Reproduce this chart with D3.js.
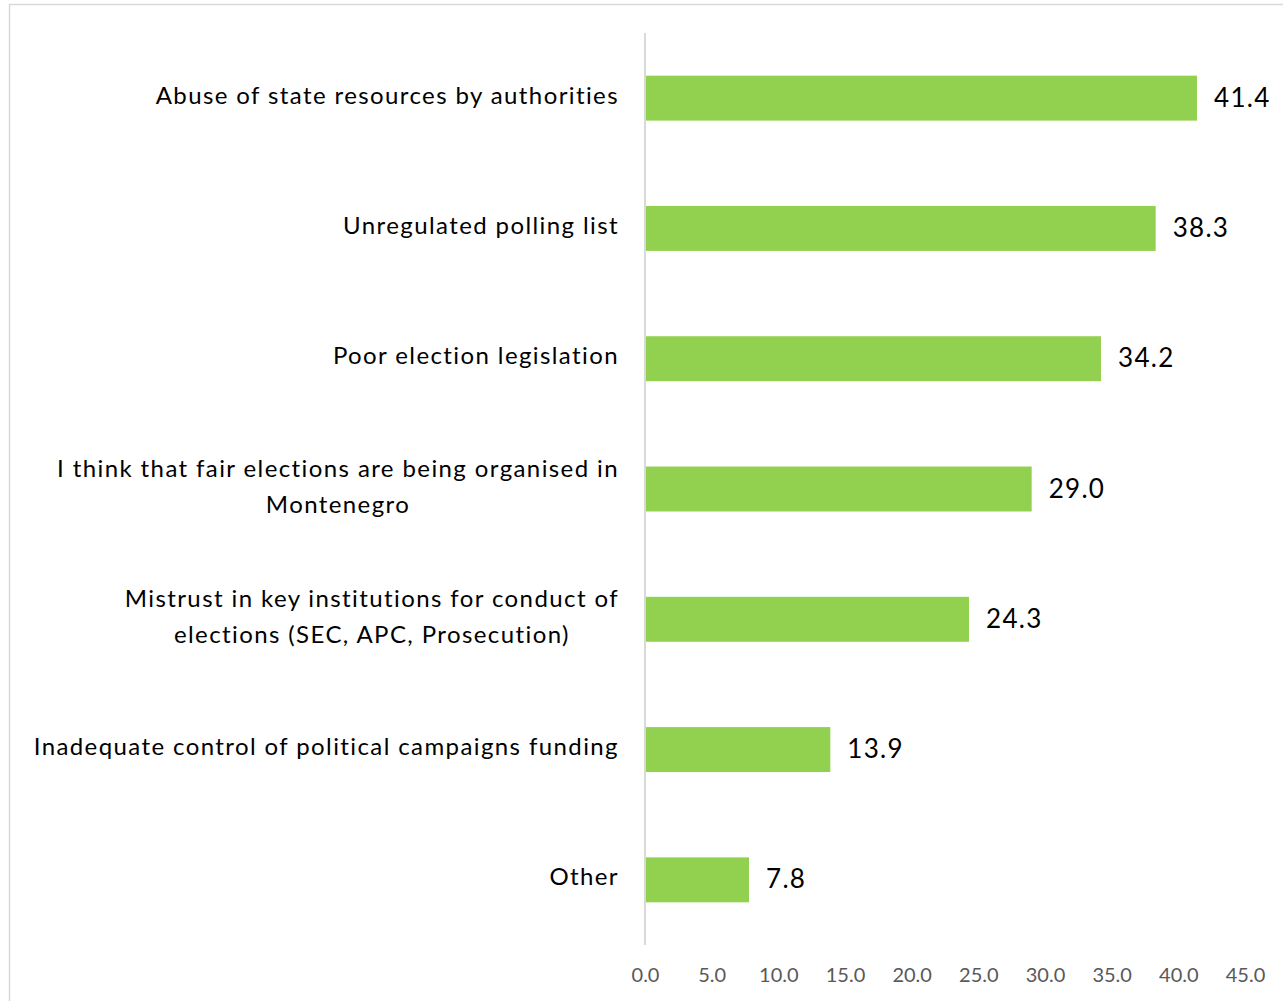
<!DOCTYPE html>
<html>
<head>
<meta charset="utf-8">
<script src="https://cdn.jsdelivr.net/npm/d3@7"></script>
<style>
  html, body { margin: 0; padding: 0; background: #fff; }
  svg { display: block; }
</style>
</head>
<body>
<svg id="chart" width="1283" height="1001"></svg>
<script>
// Categories (top to bottom), each split into its display lines
const categories = [
  ["Abuse of state resources by authorities"],
  ["Unregulated polling list"],
  ["Poor election legislation"],
  ["I think that fair elections are being organised in", "Montenegro"],
  ["Mistrust in key institutions for conduct of", "elections (SEC, APC, Prosecution)"],
  ["Inadequate control of political campaigns funding"],
  ["Other"]
];
const values = [41.4, 38.3, 34.2, 29.0, 24.3, 13.9, 7.8];
const tickValues = [0, 5, 10, 15, 20, 25, 30, 35, 40, 45];

const svg = d3.select("#chart");
const font = "Lato, 'Open Sans', sans-serif";

// Outer frame
svg.append("rect")
  .attr("x", 9.5).attr("y", 4.5)
  .attr("width", 1300).attr("height", 1020)
  .attr("fill", "none").attr("stroke", "#d9d9d9").attr("stroke-width", 1.5);

const plot = { left: 645, right: 1245, top: 33, bottom: 945 };

const x = d3.scaleLinear().domain([0, 45]).range([plot.left, plot.right]);
const y = d3.scaleBand()
  .domain(d3.range(categories.length))
  .range([plot.top, plot.bottom])
  .paddingInner(0.655).paddingOuter(0.3275);

// Bars
svg.append("g").selectAll("rect")
  .data(values)
  .join("rect")
  .attr("x", x(0))
  .attr("y", (d, i) => y(i))
  .attr("width", d => x(d) - x(0))
  .attr("height", y.bandwidth())
  .attr("fill", "#92d050");

// Category axis line
svg.append("line")
  .attr("x1", x(0)).attr("x2", x(0))
  .attr("y1", plot.top).attr("y2", plot.bottom)
  .attr("stroke", "#d9d9d9").attr("stroke-width", 2);

// Value labels
svg.append("g").selectAll("text")
  .data(values)
  .join("text")
  .attr("x", d => x(d) + 17)
  .attr("y", (d, i) => y(i) + y.bandwidth() / 2)
  .attr("dy", "0.33em")
  .attr("font-family", font)
  .attr("font-size", 26)
  .attr("letter-spacing", 1.3)
  .attr("fill", "#000")
  .text(d => d.toFixed(1));

// Category labels: block right-aligned, lines centred within block
// (right edge allows for the trailing letter-spacing)
const labelRight = 619;
const lineH = 36;
const lg = svg.append("g");
categories.forEach((lines, i) => {
  const cy = y(i) + y.bandwidth() / 2 - 3;
  const g = lg.append("g");
  const texts = lines.map((ln, j) => g.append("text")
    .attr("y", cy + (j - (lines.length - 1) / 2) * lineH)
    .attr("dy", "0.36em")
    .attr("font-family", font)
    .attr("font-size", 24)
    .attr("letter-spacing", 1.4)
    .attr("fill", "#000")
    .attr("text-anchor", "middle")
    .text(ln));
  const maxW = d3.max(texts, t => t.node().getComputedTextLength());
  texts.forEach(t => t.attr("x", labelRight - maxW / 2));
});

// Value axis tick labels
const xAxis = d3.axisBottom(x)
  .tickValues(tickValues)
  .tickFormat(d3.format(".1f"))
  .tickSize(0)
  .tickPadding(0);
const ag = svg.append("g")
  .attr("transform", `translate(0, 968)`)
  .call(xAxis);
ag.select(".domain").remove();
ag.selectAll("text")
  .attr("font-family", font)
  .attr("font-size", 20)
  .attr("fill", "#595959")
  .attr("dy", "0.71em");
</script>
</body>
</html>
